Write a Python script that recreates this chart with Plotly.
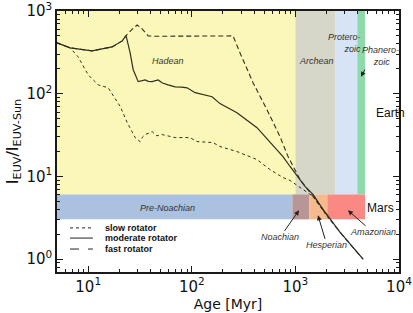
import numpy as np
import plotly.graph_objects as go

# ---------------- data ----------------
slow_age = [5.0, 6.7, 8.0, 10.0, 12.5, 15.6, 20.4, 23.8, 28.4, 31.7, 33.5, 35.5, 41.4, 46, 51.7,
            69, 96, 112, 160, 187, 273, 426, 569, 759, 888, 1479, 2018, 2693, 4500]
slow_euv = [412, 358, 279, 169, 128, 118, 70, 44.8, 29.5, 26.4, 30, 32.1, 34.8, 31, 32.1,
            29.5, 29.5, 26.4, 25.7, 23.0, 20.0, 16.0, 12.1, 9.7, 8.95, 5.74, 3.30, 2.12, 1.0]

mod_age = [5.0, 6.7, 10.9, 17.0, 21.3, 23.2, 25.4, 27.2, 30.4, 32.5, 35.5, 38, 41.4, 47.3, 52,
           59.1, 69.0, 80, 90.1, 107.7, 130, 157, 187, 273, 426, 569, 759, 888, 1238, 1479,
           1847, 2693, 4500]
mod_euv = [412, 358, 330, 368, 435, 505, 312, 195, 140, 144, 147, 141, 140, 147, 135,
           128, 121, 120, 118, 103, 98, 92, 76, 59, 38.9, 25.7, 17.4, 13.2, 7.6, 6.07,
           4.0, 2.12, 1.0]

fast_age = [5.0, 6.7, 10.9, 17.0, 21.3, 23.2, 26.5, 29.7, 33, 37.9, 44.3, 250, 292, 390,
            532, 710, 849, 1107, 1384, 1847, 2693, 4500]
fast_euv = [412, 358, 330, 368, 435, 505, 600, 678, 610, 500, 495, 500, 312, 136,
            64, 30.3, 17.4, 9.2, 6.4, 4.0, 2.12, 1.0]

# Earth eons: name, start age, end age, colour
earth_names = ["Hadean", "Archean", "Proterozoic", "Phanerozoic"]
earth_start = [5, 1000, 2440, 3960]
earth_end = [1000, 2440, 3960, 4700]
earth_colors = ["#FAF7B8", "#D6D7C9", "#D7E4F5", "#8FDAAB"]
earth_band = [6.07, 1000]

# Mars eras
mars_names = ["Pre-Noachian", "Noachian", "Hesperian", "Amazonian"]
mars_start = [5, 934, 1361, 2032]
mars_end = [934, 1361, 2032, 4700]
mars_colors = ["#AAC1DF", "#B99696", "#F6BA8C", "#FA8883"]
mars_band = [3.03, 6.07]

x_tickvals = [10, 100, 1000, 10000]
x_ticktext = ["10<sup>1</sup>", "10<sup>2</sup>", "10<sup>3</sup>", "10<sup>4</sup>"]
y_tickvals = [1, 10, 100, 1000]
y_ticktext = ["10<sup>0</sup>", "10<sup>1</sup>", "10<sup>2</sup>", "10<sup>3</sup>"]

legend_labels = ["slow rotator", "moderate rotator", "fast rotator"]

fig = go.Figure()

# background bands
for s, e, c in zip(earth_start, earth_end, earth_colors):
    fig.add_trace(go.Scatter(x=[s, e, e, s, s],
                             y=[earth_band[0], earth_band[0], earth_band[1], earth_band[1], earth_band[0]],
                             fill="toself", fillcolor=c, mode="none", showlegend=False, hoverinfo="skip"))
for s, e, c in zip(mars_start, mars_end, mars_colors):
    fig.add_trace(go.Scatter(x=[s, e, e, s, s],
                             y=[mars_band[0], mars_band[0], mars_band[1], mars_band[1], mars_band[0]],
                             fill="toself", fillcolor=c, mode="none", showlegend=False, hoverinfo="skip"))

line_col = "#2f2f22"
fig.add_trace(go.Scatter(x=slow_age, y=slow_euv, mode="lines", showlegend=False,
                         line=dict(color=line_col, width=1, dash="dot")))
fig.add_trace(go.Scatter(x=fast_age, y=fast_euv, mode="lines", showlegend=False,
                         line=dict(color=line_col, width=1.1, dash="5px,3px")))
fig.add_trace(go.Scatter(x=mod_age, y=mod_euv, mode="lines", showlegend=False,
                         line=dict(color=line_col, width=1.2)))

lg = np.log10
ann = []
FONT = "Liberation Sans, Arial"
lab_font = dict(family=FONT, size=9, color="#333333")

def txt(text, age, val, size=9, italic=True, align="center", color="#333333"):
    t = f"<i>{text}</i>" if italic else text
    ann.append(dict(x=lg(age), y=lg(val), xref="x", yref="y", text=t, showarrow=False,
                    align=align, font=dict(family=FONT, size=size, color=color)))

txt("Hadean", 59, 250)
txt("Archean", 1614, 250)
txt("Protero-<br>zoic", 3000, 412, align="right")
txt("Phanero-<br> zoic", 6600, 287)
txt("Earth", 8200, 59, size=12, italic=False, color="#111111")
txt("Mars", 6700, 4.1, size=12, italic=False, color="#111111")
txt("Pre-Noachian", 58, 4.2)

def arr(text, age, val, ax, ay):
    ann.append(dict(x=lg(age), y=lg(val), xref="x", yref="y",
                    text=f"<i>{text}</i>" if text.strip() else text,
                    showarrow=True, arrowhead=2, arrowsize=1, arrowwidth=1, arrowcolor="#222222",
                    ax=ax, ay=ay, font=lab_font, standoff=0))

arr("Noachian", 1084, 3.9, -19, 27)
arr("Hesperian", 1652, 3.39, 9, 30)
arr("Amazonian", 3214, 3.9, 25, 22)
arr(" ", 4295, 160, 7, -13)

# custom legend (paper coordinates)
shapes = []
leg_y = [0.169, 0.130, 0.088]
dashes = ["dot", "solid", "dash"]
for lab, yy, d in zip(legend_labels, leg_y, dashes):
    shapes.append(dict(type="line", xref="paper", yref="paper", x0=0.038, x1=0.105, y0=yy, y1=yy,
                       line=dict(color="#222222", width=1, dash=d)))
    ann.append(dict(x=0.135, y=yy, xref="paper", yref="paper", text=f"<b>{lab}</b>", showarrow=False,
                    xanchor="left", yanchor="middle",
                    font=dict(family=FONT, size=9, color="#111111")))

minor_x = [m * 10 ** k for k in range(0, 4) for m in range(2, 10)]
minor_y = [m * 10 ** k for k in range(-1, 3) for m in range(2, 10)]

axis_common = dict(type="log", showgrid=False, zeroline=False, showline=True, linecolor="#1a1a1a",
                   linewidth=1.5, mirror="ticks", ticks="inside", ticklen=6, tickwidth=1.2,
                   tickcolor="#1a1a1a", automargin=False, ticklabeloverflow="allow",
                   tickfont=dict(family="DejaVu Sans", size=15, color="#111111"))

fig.update_layout(
    width=413, height=313,
    margin=dict(l=57, r=14, t=11, b=41),
    paper_bgcolor="white", plot_bgcolor="white",
    showlegend=False,
    xaxis=dict(**axis_common, range=[lg(5), 4], tickmode="array", tickvals=x_tickvals,
               ticktext=x_ticktext,
               minor=dict(tickmode="array", tickvals=minor_x, ticks="inside", ticklen=3,
                          tickcolor="#1a1a1a", showgrid=False),
               title=dict(text="Age [Myr]", standoff=4,
                          font=dict(family="DejaVu Sans", size=14, color="#111111"))),
    yaxis=dict(**axis_common, range=[lg(0.7), 3], tickmode="array", tickvals=y_tickvals,
               ticktext=y_ticktext,
               minor=dict(tickmode="array", tickvals=minor_y, ticks="inside", ticklen=3,
                          tickcolor="#1a1a1a", showgrid=False),
               title=dict(text="I<sub>EUV</sub>/I<sub>EUV-Sun</sub>", standoff=4,
                          font=dict(family="DejaVu Sans", size=16, color="#111111"))),
    annotations=ann,
    shapes=shapes,
)

fig.write_html("out.html", config={"displayModeBar": False},
               post_script="document.body.style.margin='0';document.body.style.overflow='hidden';")
